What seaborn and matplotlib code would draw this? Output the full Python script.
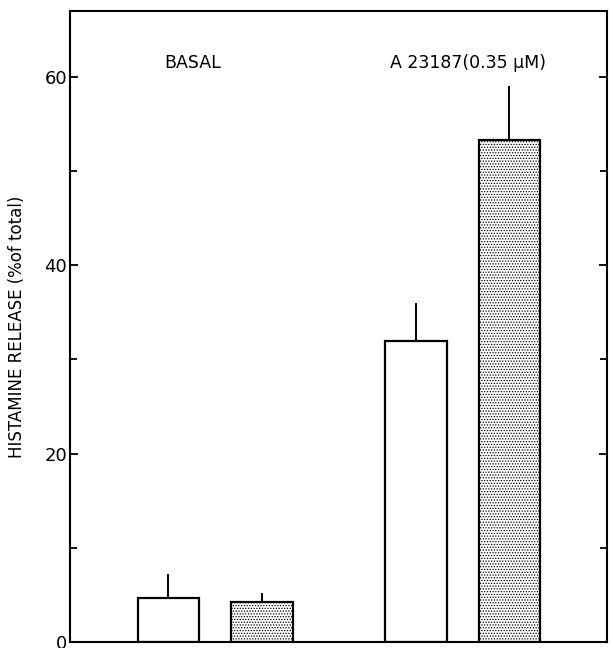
import pandas as pd
import matplotlib
matplotlib.use("Agg")
import matplotlib.pyplot as plt
import seaborn as sns
from matplotlib.ticker import MultipleLocator

# values
groups = ["BASAL", "A 23187(0.35 μM)"]
conditions = ["open", "stippled"]
release = [4.7, 4.2, 32.0, 53.3]
sem = [2.5, 1.0, 4.0, 5.7]

df = pd.DataFrame({
    "group": [g for g in groups for _ in conditions],
    "cond": conditions * len(groups),
    "release": release,
    "sem": sem,
})

sns.set_style("ticks")
plt.rcParams["font.family"] = ["DejaVu Sans"]
plt.rcParams["text.color"] = "black"
plt.rcParams["axes.labelcolor"] = "black"
plt.rcParams["axes.edgecolor"] = "black"
plt.rcParams["ytick.color"] = "black"
plt.rcParams["hatch.linewidth"] = 0.6

fig = plt.figure(figsize=(6.13, 6.48), dpi=100)
ax = fig.add_axes([70 / 613, 6 / 648, (607 - 70) / 613, (642 - 11) / 648])

sns.barplot(data=df, x="group", y="release", hue="cond", hue_order=conditions,
            palette=["white", "white"], edgecolor="black", linewidth=1.6,
            width=0.755, gap=0.34, errorbar=None, legend=False, ax=ax)

# stipple on the second bar of each group, error bars upward only
for p, (_, row) in zip(ax.patches, df.sort_values("cond", kind="stable").iterrows()):
    if row["cond"] == "stippled":
        p.set_hatch("......")
    xc = p.get_x() + p.get_width() / 2
    top = p.get_height()
    ax.vlines(xc, top, top + row["sem"], color="black", lw=1.4)

ax.set_xlim(-0.586, 1.583)
ax.set_ylim(0, 67)
ax.set_xticks([])
ax.set_xlabel("")
ax.set_yticks([0, 20, 40, 60])
ax.yaxis.set_minor_locator(MultipleLocator(10))
ax.tick_params(axis="y", which="both", direction="in", right=True,
               labelsize=13, width=1.3, pad=2, colors="black")
ax.tick_params(axis="y", which="major", length=6)
ax.tick_params(axis="y", which="minor", length=5)
for s in ax.spines.values():
    s.set_visible(True)
    s.set_linewidth(1.5)
    s.set_color("black")
ax.set_ylabel("HISTAMINE RELEASE (%of total)", fontsize=12, labelpad=13)

ax.text(-0.09, 61.5, groups[0], ha="center", va="center", fontsize=12.5)
ax.text(1.02, 61.5, groups[1], ha="center", va="center", fontsize=12.5)

fig.savefig("out.png", dpi=100)
